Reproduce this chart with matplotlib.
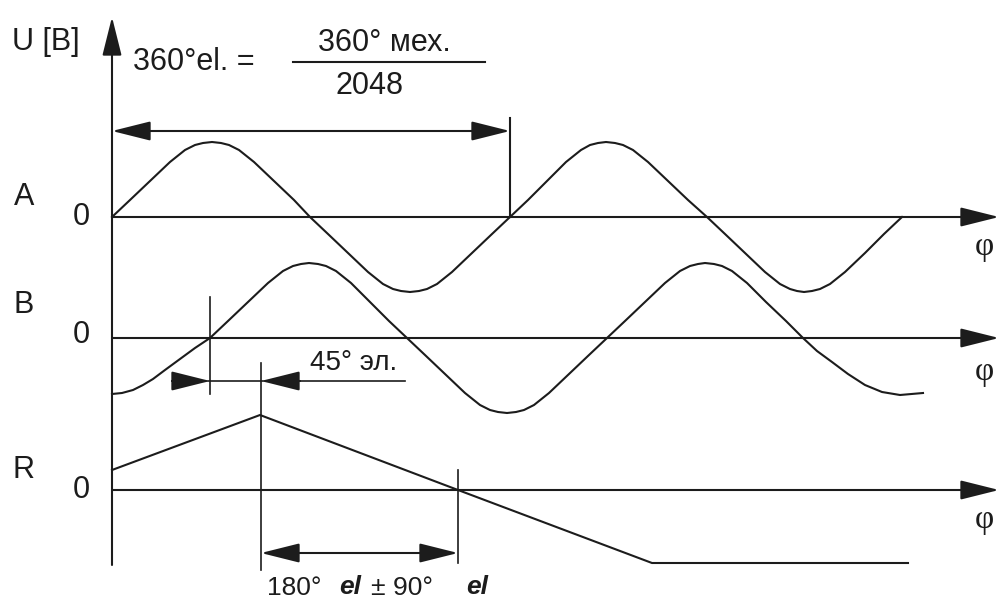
"""
Encoder output signals A, B and reference pulse R (incremental encoder, 2048 lines).
"""
import matplotlib.pyplot as plt

# ---- data (pixel coordinates, y grows downward) ----
# channel A
a_x = [112, 130, 150, 170, 185, 195, 203, 212, 221, 229, 239, 254, 274, 294, 310,
       328, 348, 368, 383, 393, 401, 410, 419, 427, 437, 452, 472, 492, 510,
       528, 547, 566, 581, 590, 598, 606, 615, 623, 633, 648, 668, 688, 707,
       725, 745, 765, 780, 790, 797, 804, 812, 820, 830, 845, 865, 884, 902]
a_y = [217, 200, 181, 162, 150, 145, 143, 142, 143, 145, 150, 162, 181, 200, 217,
       234, 253, 272, 284, 289, 291, 292, 291, 289, 284, 272, 253, 234, 217,
       200, 181, 162, 150, 145, 143, 142, 143, 145, 150, 162, 181, 200, 217,
       234, 253, 272, 284, 289, 291, 292, 291, 289, 284, 272, 253, 234, 217]

# channel B
b_x = [112, 122, 133, 143, 153, 165, 180, 195, 210,
       228, 248, 268, 283, 293, 301, 309, 318, 326, 336, 351, 370, 389, 407,
       425, 445, 465, 480, 490, 498, 507, 516, 524, 534, 549, 569, 589, 607,
       625, 645, 665, 680, 690, 698, 705, 714, 722, 732, 747, 766, 786, 803,
       817, 832, 848, 865, 882, 900, 923]
b_y = [394, 393, 390, 385, 379, 370, 359, 348, 338,
       321, 302, 283, 271, 266, 264, 263, 264, 266, 271, 283, 302, 321, 338,
       355, 374, 393, 405, 410, 412, 413, 412, 410, 405, 393, 374, 355, 338,
       321, 302, 283, 271, 266, 264, 263, 264, 266, 271, 283, 302, 321, 338,
       351, 362, 374, 385, 392, 395, 393]

# reference pulse R
r_x = [112, 260, 458, 652, 908]
r_y = [470, 415, 490, 563, 563]

# zero lines of the three channels
zero_names = ['A', 'B', 'R']
zero_y = [217, 338, 490]
name_y = [197, 305, 470]
zero_lbl_y = [217, 335, 490]
phi_y = [247, 372, 520]

INK = '#1c1c1c'
LW = 1.5
FONT = ['Liberation Sans', 'DejaVu Sans']

fig = plt.figure(figsize=(9.98, 6.02), dpi=100)
ax = fig.add_axes([0, 0, 1, 1])
ax.set_xlim(0, 998)
ax.set_ylim(602, 0)
ax.axis('off')


def arrow(x0, y0, x1, y1, both=False):
    style = '<|-|>' if both else '-|>'
    ax.annotate('', xy=(x1, y1), xytext=(x0, y0), annotation_clip=False,
                arrowprops=dict(arrowstyle=style + ',head_length=2.4,head_width=0.6',
                                mutation_scale=10, shrinkA=0, shrinkB=0,
                                lw=LW, color=INK))


# vertical U axis
arrow(112, 565, 112, 17)
ax.text(46, 42, 'U [B]', fontsize=22, family=FONT, color=INK, ha='center', va='center')

# horizontal phi axes with labels
for name, zy, ny, ly, py in zip(zero_names, zero_y, name_y, zero_lbl_y, phi_y):
    arrow(112, zy, 999, zy)
    ax.text(24, ny, name, fontsize=22, family=FONT, color=INK, ha='center', va='center')
    ax.text(81, ly, '0', fontsize=22, family=FONT, color=INK, ha='center', va='center')
    ax.text(975, py, 'φ', fontsize=24, family=['Liberation Serif', 'DejaVu Serif'],
            color=INK, ha='left', va='center')

# signals
ax.plot(a_x, a_y, color=INK, lw=LW, solid_joinstyle='round')
ax.plot(b_x, b_y, color=INK, lw=LW, solid_joinstyle='round')
ax.plot(r_x, r_y, color=INK, lw=LW, solid_joinstyle='miter')

# 360 el. = 360 mech / 2048
ax.text(133, 62, '360°el. =', fontsize=22, family=FONT, color=INK, ha='left', va='center')
ax.text(384, 43, '360° мех.', fontsize=22, family=FONT, color=INK, ha='center', va='center')
ax.plot([293, 485], [62, 62], color=INK, lw=LW)
ax.text(370, 86, '2048', fontsize=22, family=FONT, color=INK, ha='center', va='center')
arrow(112, 131, 510, 131, both=True)
ax.plot([510, 510], [118, 217], color=INK, lw=LW)

# 45 el. offset between B zero crossing and R peak
ax.plot([210, 210], [297, 394], color=INK, lw=1.2)
ax.plot([261, 261], [363, 570], color=INK, lw=1.2)
ax.plot([172, 405], [381, 381], color=INK, lw=1.2)
arrow(172, 381, 210, 381)
arrow(300, 381, 261, 381)
ax.text(310, 363, '45° эл.', fontsize=20, family=FONT, color=INK, ha='left', va='center')

# 180 el +- 90 el
ax.plot([458, 458], [470, 563], color=INK, lw=1.2)
arrow(261, 553, 458, 553, both=True)
ax.text(267, 588, '180°', fontsize=19, family=FONT, color=INK, ha='left', va='center')
ax.text(339, 587, 'el', fontsize=19, family=FONT, color=INK, ha='left', va='center',
        weight='bold', style='italic')
ax.text(371, 588, '± 90°', fontsize=19, family=FONT, color=INK, ha='left', va='center')
ax.text(466, 587, 'el', fontsize=19, family=FONT, color=INK, ha='left', va='center',
        weight='bold', style='italic')

plt.savefig('out.png', dpi=100)
